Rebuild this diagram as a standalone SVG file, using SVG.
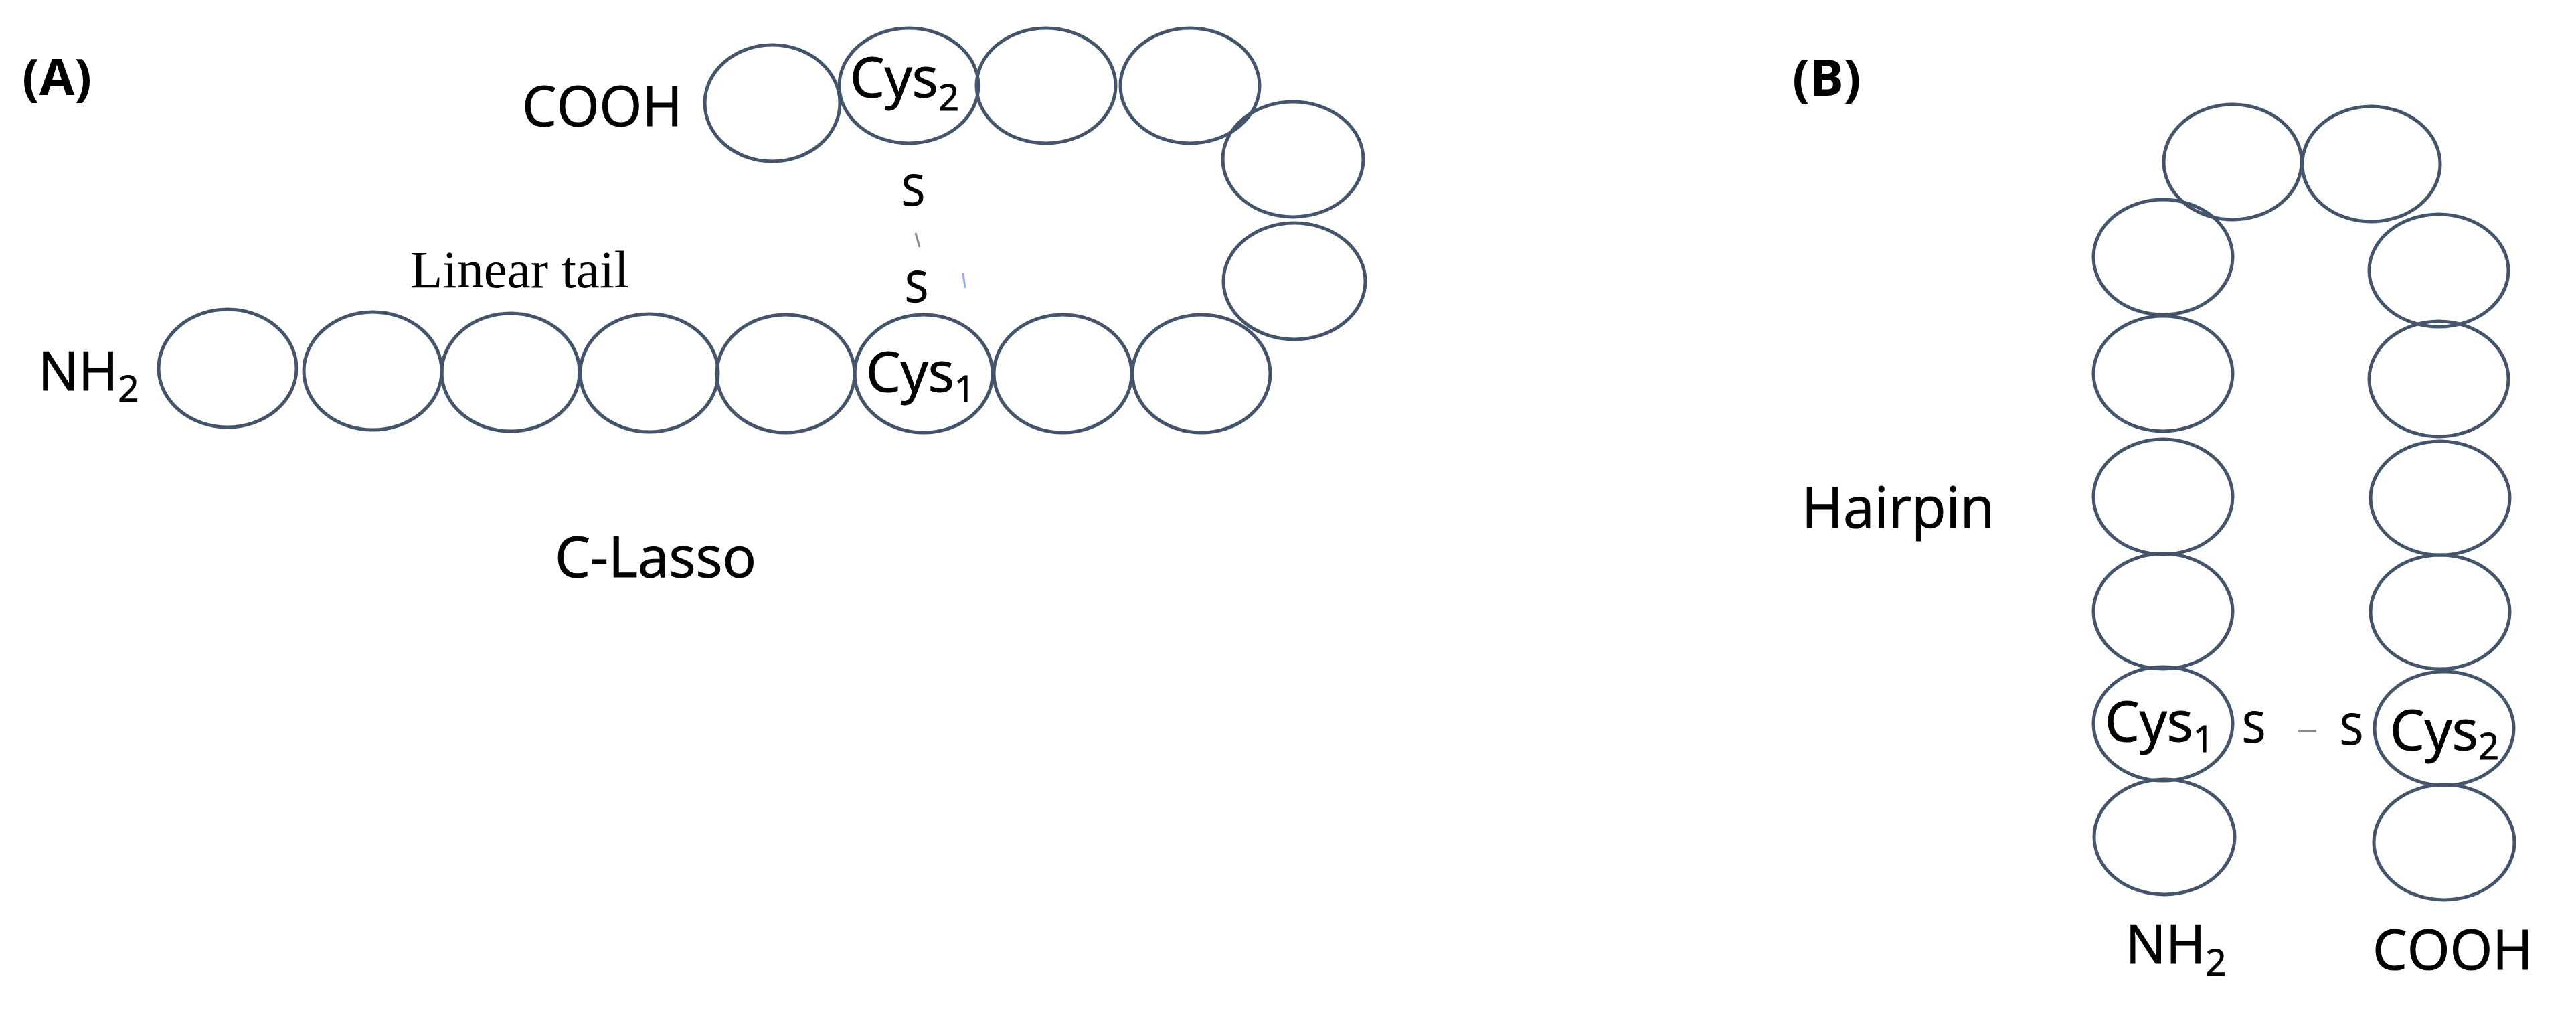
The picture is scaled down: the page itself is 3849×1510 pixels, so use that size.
<svg xmlns="http://www.w3.org/2000/svg" width="3849" height="1510" viewBox="0 0 3849 1510">
<style>
.res{fill:none;stroke:#44546a;stroke-width:5}
.t{font-family:"Open Sans","Noto Sans","Liberation Sans",sans-serif;fill:#000;stroke:#000;stroke-width:1}
.lbl{font-size:82px}
.sub{font-size:55px}
.s{font-size:64px}
.pan{font-size:76px;font-weight:bold;stroke-width:0}
.serif{font-family:"Liberation Serif","DejaVu Serif",serif;font-size:79px;fill:#000}
.bond{stroke:#8c8c8c;stroke-width:3;fill:none}
</style>
<rect width="3849" height="1510" fill="#fff"/>
<g id="panelA">
<text class="t pan" x="33" y="142">(A)</text>
<text class="t lbl" x="780" y="188">COOH</text>
<text class="t" x="57" y="583" style="font-size:80px">NH<tspan class="sub" dy="17">2</tspan></text>
<text class="serif" x="613" y="429">Linear tail</text>
<text class="t" x="829" y="862" style="font-size:84px">C-Lasso</text>
<g id="a1"><ellipse class="res" cx="340" cy="550" rx="103" ry="88"/></g>
<g id="a2"><ellipse class="res" cx="557" cy="554" rx="103" ry="88"/></g>
<g id="a3"><ellipse class="res" cx="763" cy="556" rx="103" ry="88"/></g>
<g id="a4"><ellipse class="res" cx="970" cy="557" rx="103" ry="88"/></g>
<g id="a5"><ellipse class="res" cx="1174" cy="558" rx="103" ry="88"/></g>
<g id="a6-cys1"><ellipse class="res" cx="1380" cy="558" rx="103" ry="88"/>
<text class="t lbl" x="1294" y="585">Cys<tspan class="sub" dy="15">1</tspan></text></g>
<g id="a7"><ellipse class="res" cx="1588" cy="558" rx="103" ry="88"/></g>
<g id="a8"><ellipse class="res" cx="1795" cy="558" rx="103" ry="88"/></g>
<g id="a9"><ellipse class="res" cx="1934" cy="420" rx="106" ry="87"/></g>
<g id="a10"><ellipse class="res" cx="1932" cy="238" rx="105" ry="86"/></g>
<g id="a11"><ellipse class="res" cx="1778" cy="128" rx="104" ry="86"/></g>
<g id="a12"><ellipse class="res" cx="1563" cy="128" rx="104" ry="86"/></g>
<g id="a13-cys2"><ellipse class="res" cx="1358" cy="128" rx="104" ry="86"/>
<text class="t lbl" x="1270" y="145">Cys<tspan class="sub" dy="20">2</tspan></text></g>
<g id="a14"><ellipse class="res" cx="1154" cy="154" rx="101" ry="87"/></g>
<g id="a-s1"><text class="t s" x="1347" y="307">S</text></g>
<g id="a-s2"><text class="t s" x="1352" y="451">S</text></g>
</g>
<g id="panelB">
<text class="t pan" x="2678" y="143">(B)</text>
<text class="t" x="2692" y="788" style="font-size:84px">Hairpin</text>
<g id="b-t1"><ellipse class="res" cx="3336" cy="242" rx="103" ry="86"/></g>
<g id="b-t2"><ellipse class="res" cx="3543" cy="245" rx="103" ry="86"/></g>
<g id="b-l1"><ellipse class="res" cx="3232" cy="384" rx="104" ry="86"/></g>
<g id="b-l2"><ellipse class="res" cx="3232" cy="558" rx="104" ry="86"/></g>
<g id="b-l3"><ellipse class="res" cx="3232" cy="742" rx="104" ry="86"/></g>
<g id="b-l4"><ellipse class="res" cx="3232" cy="913" rx="104" ry="86"/></g>
<g id="b-l5-cys1"><ellipse class="res" cx="3232" cy="1081" rx="104" ry="85"/>
<text class="t lbl" x="3145" y="1107">Cys<tspan class="sub" dy="16">1</tspan></text></g>
<g id="b-l6"><ellipse class="res" cx="3234" cy="1250" rx="105" ry="86"/></g>
<g id="b-r1"><ellipse class="res" cx="3644" cy="404" rx="104" ry="84"/></g>
<g id="b-r2"><ellipse class="res" cx="3644" cy="566" rx="104" ry="86"/></g>
<g id="b-r3"><ellipse class="res" cx="3646" cy="744" rx="104" ry="85"/></g>
<g id="b-r4"><ellipse class="res" cx="3646" cy="914" rx="104" ry="85"/></g>
<g id="b-r5-cys2"><ellipse class="res" cx="3652" cy="1088" rx="104" ry="85"/>
<text class="t lbl" x="3571" y="1120">Cys<tspan class="sub" dy="14">2</tspan></text></g>
<g id="b-r6"><ellipse class="res" cx="3652" cy="1258" rx="105" ry="86"/></g>
<g id="b-s1"><text class="t s" x="3350" y="1109">S</text></g>
<g id="b-s2"><text class="t s" x="3496" y="1112">S</text></g>
<text class="t" x="3176" y="1439" style="font-size:80px">NH<tspan class="sub" dy="18">2</tspan></text>
<text class="t lbl" x="3545" y="1448">COOH</text>
</g>
<g id="connectors">
<line class="bond" x1="1368" y1="348" x2="1374" y2="369"/>
<line x1="1439" y1="408" x2="1442" y2="430" stroke="#8fb0e0" stroke-width="3"/>
<line class="bond" x1="3434" y1="1092" x2="3461" y2="1092"/>
</g>
</svg>
